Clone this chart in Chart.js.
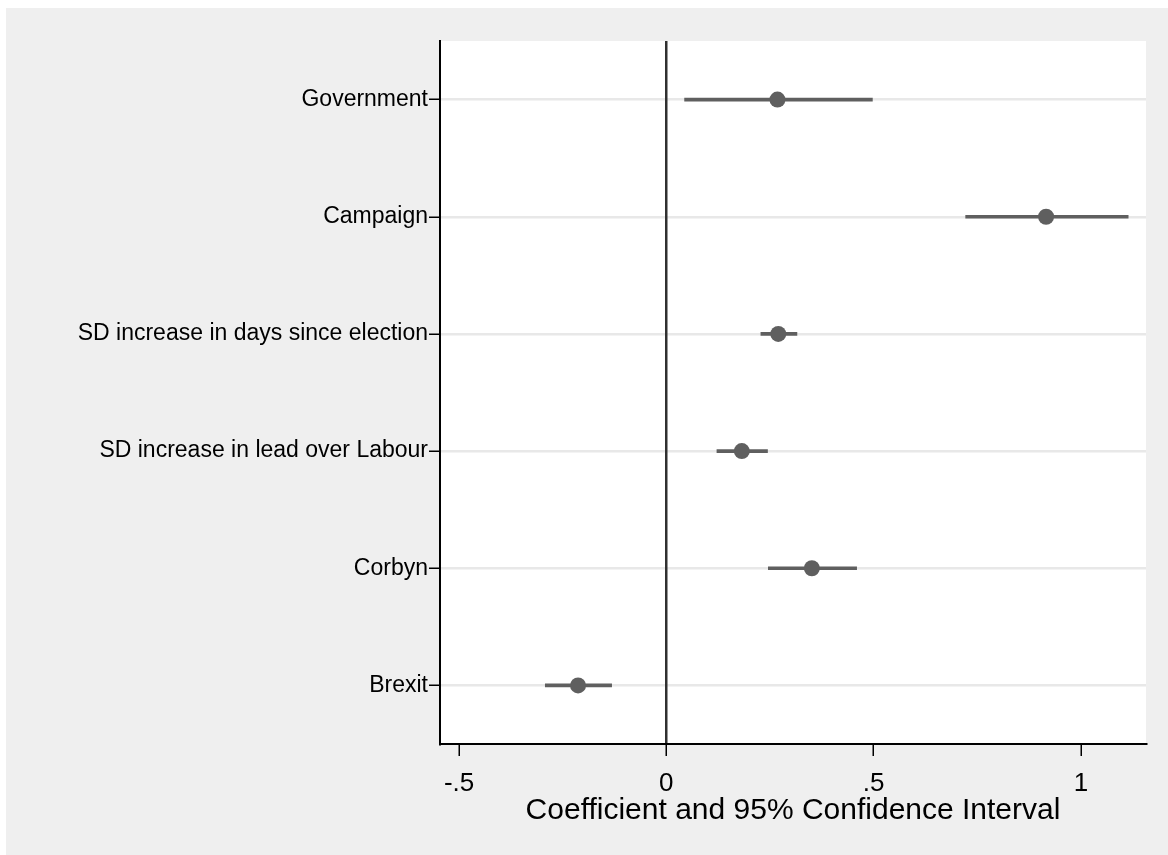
<!DOCTYPE html>
<html>
<head>
<meta charset="utf-8">
<script src="https://cdn.jsdelivr.net/npm/chart.js@4/dist/chart.umd.min.js"></script>
<style>
  html, body { margin: 0; padding: 0; background: #ffffff; }
  #wrap { position: absolute; left: 6px; top: 8px; width: 1162px; height: 847px; background: #efefef; }
</style>
</head>
<body>
<div id="wrap"><canvas id="coefChart"></canvas></div>
<script>
// Données
const categories = ["Government", "Campaign", "SD increase in days since election",
  "SD increase in lead over Labour", "Corbyn", "Brexit"];
const coef = [0.268, 0.916, 0.270, 0.182, 0.351, -0.213];
const ciLow = [0.044, 0.722, 0.228, 0.122, 0.246, -0.292];
const ciHigh = [0.497, 1.114, 0.315, 0.244, 0.459, -0.132];
const xTicks = [-0.5, 0, 0.5, 1];
const xTickLabels = ["-.5", "0", ".5", "1"];

const markColor = "#5f5f5f";
const fontFamily = "'Liberation Sans', Arial, sans-serif";

// Fond blanc pour la zone du graphique
const plotBackground = {
  id: "plotBackground",
  beforeDraw(chart) {
    const { ctx, chartArea } = chart;
    ctx.save();
    ctx.fillStyle = "#ffffff";
    ctx.fillRect(chartArea.left, chartArea.top, chartArea.right - chartArea.left, chartArea.bottom - chartArea.top);
    ctx.restore();
  }
};

const ctx = document.getElementById("coefChart").getContext("2d");

new Chart(ctx, {
  type: "bar",
  data: {
    labels: categories,
    datasets: [
      {
        type: "scatter",
        data: categories.map((c, i) => ({ x: coef[i], y: c })),
        backgroundColor: markColor,
        borderWidth: 0,
        pointRadius: 8,
        order: 0,
      },
      {
        type: "bar",
        data: categories.map((c, i) => [ciLow[i], ciHigh[i]]),
        backgroundColor: markColor,
        barThickness: 3,
        order: 1,
      },
    ],
  },
  options: {
    indexAxis: "y",
    responsive: true,
    maintainAspectRatio: false,
    animation: false,
    layout: { padding: { top: 33, right: 22, left: 0, bottom: 0 } },
    plugins: {
      legend: { display: false },
      tooltip: { enabled: false },
    },
    scales: {
      x: {
        type: "linear",
        min: -0.546,
        max: 1.157,
        afterBuildTicks: (scale) => { scale.ticks = xTicks.map((v) => ({ value: v })); },
        afterFit: (scale) => { scale.height = 111; },
        border: { display: true, color: "#000000", width: 2 },
        grid: {
          z: 0, // la ligne zéro passe au-dessus des lignes grises
          drawTicks: true,
          tickLength: 12,
          tickColor: "#000000",
          tickWidth: 1.5,
          color: (c) => (c.tick && c.tick.value === 0 ? "#303030" : "rgba(0,0,0,0)"),
          lineWidth: 2.5,
        },
        ticks: {
          color: "#000000",
          font: { family: fontFamily, size: 26 },
          padding: 12,
          maxRotation: 0,
          callback: (v) => xTickLabels[xTicks.indexOf(v)],
        },
        title: {
          display: true,
          text: "Coefficient and 95% Confidence Interval",
          color: "#000000",
          font: { family: fontFamily, size: 30 },
          padding: { top: 0, bottom: 26 },
        },
      },
      y: {
        type: "category",
        offset: true,
        afterFit: (scale) => { scale.width = 434; },
        border: { display: true, color: "#000000", width: 2 },
        grid: {
          offset: false,
          color: "#e8e8e8",
          lineWidth: 2.5,
          tickLength: 11,
          tickColor: "#000000",
          tickWidth: 1.5,
        },
        ticks: {
          color: "#000000",
          font: { family: fontFamily, size: 23 },
          padding: 1,
        },
      },
    },
  },
  plugins: [plotBackground],
});
</script>
</body>
</html>
